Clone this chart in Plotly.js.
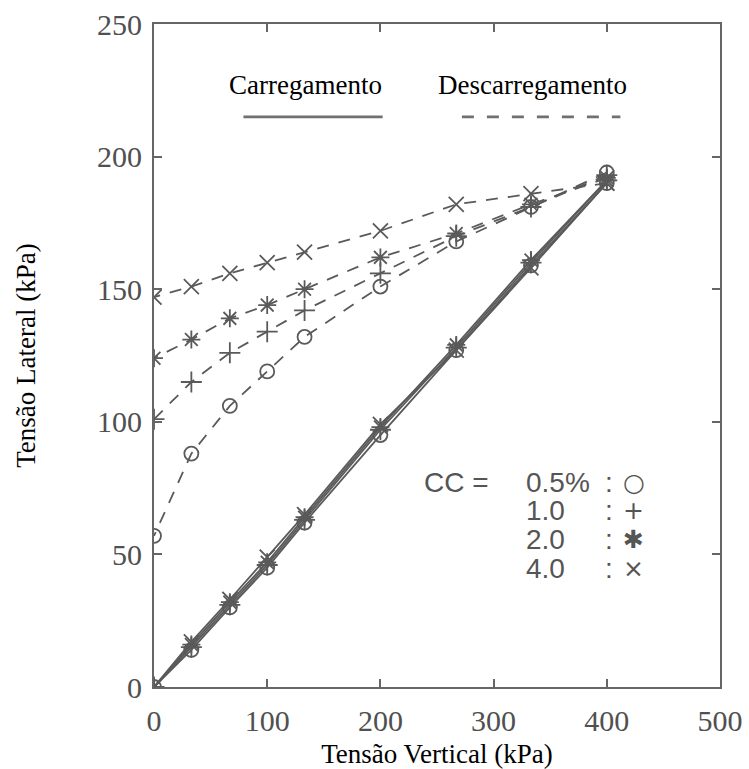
<!DOCTYPE html>
<html>
<head>
<meta charset="utf-8">
<script src="https://cdn.plot.ly/plotly-3.0.1.min.js"></script>
<style>
html,body{margin:0;padding:0;background:#fff;}
#chart{width:749px;height:769px;}
</style>
</head>
<body>
<div id="chart"></div>
<script>
// ---- data ----
const loadX   = [0, 33, 67, 100, 133, 200, 267, 333, 400];
const load05  = [0, 14, 30, 45, 62, 95, 127, 159, 190];
const load10  = [0, 15, 31, 46, 63, 97, 128, 160, 191];
const load20  = [0, 16, 32, 47, 64, 98, 129, 161, 191];
const load40  = [0, 17, 33, 49, 65, 99, 127, 158, 190];

const unloadX  = [400, 333, 267, 200, 133, 100, 67, 33, 0];
const unload05 = [194, 181, 168, 151, 132, 119, 106, 88, 57];
const unload10 = [193, 181, 170, 156, 142, 134, 126, 115, 101];
const unload20 = [192, 182, 171, 162, 150, 144, 139, 131, 124];
const unload40 = [190, 186, 182, 172, 164, 160, 156, 151, 147];

const ccLabels  = ['0.5%', '1.0', '2.0', '4.0'];
const ccSymbols = ['○', '+', '✱', '×'];
const xTicks = [0, 100, 200, 300, 400, 500];
const yTicks = [0, 50, 100, 150, 200, 250];

const grey = '#5a5a5a';
const series = [
  {load: load05, unload: unload05, sym: 'circle-open', size: 14},
  {load: load10, unload: unload10, sym: 'cross-thin-open', size: 15},
  {load: load20, unload: unload20, sym: 'asterisk-open', size: 15},
  {load: load40, unload: unload40, sym: 'x-thin-open', size: 15}
];

const traces = [];
series.forEach((s, i) => {
  traces.push({
    x: loadX, y: s.load, type: 'scatter', mode: 'lines+markers',
    name: 'Carregamento CC=' + ccLabels[i],
    line: {color: grey, width: 1.8},
    marker: {symbol: s.sym, size: s.size, color: grey, line: {color: grey, width: 1.8}},
    showlegend: false
  });
  traces.push({
    x: unloadX, y: s.unload, type: 'scatter', mode: 'lines+markers',
    name: 'Descarregamento CC=' + ccLabels[i],
    line: {color: grey, width: 1.8, dash: '12px,10px'},
    marker: {symbol: s.sym, size: s.size, color: grey, line: {color: grey, width: 1.8}},
    showlegend: false
  });
});

const tickFont = {family: 'Liberation Serif, Times New Roman, serif', size: 30, color: '#505050'};
const titleFont = {family: 'Liberation Serif, Times New Roman, serif', size: 27, color: '#000'};
const ccFont = {family: 'Liberation Sans, Arial, sans-serif', size: 28, color: '#555'};
const symFont = {family: 'DejaVu Sans, sans-serif', size: 25, color: '#555'};

const annotations = [
  {x: 134, y: 227, xref: 'x', yref: 'y', text: 'Carregamento', showarrow: false,
   font: titleFont, xanchor: 'center', yanchor: 'middle'},
  {x: 334, y: 227, xref: 'x', yref: 'y', text: 'Descarregamento', showarrow: false,
   font: titleFont, xanchor: 'center', yanchor: 'middle'},
  {x: 267, y: 77, xref: 'x', yref: 'y', text: 'CC =', showarrow: false,
   font: ccFont, xanchor: 'center', yanchor: 'middle'}
];
const rowY = [77, 66.7, 55.7, 44.7];
ccLabels.forEach((lab, i) => {
  annotations.push({x: 327, y: rowY[i], xref: 'x', yref: 'y', text: lab, showarrow: false,
    font: ccFont, xanchor: 'left', yanchor: 'middle'});
  annotations.push({x: 397, y: rowY[i], xref: 'x', yref: 'y', text: ':', showarrow: false,
    font: ccFont, xanchor: 'left', yanchor: 'middle'});
  annotations.push({x: 424, y: rowY[i], xref: 'x', yref: 'y', text: ccSymbols[i], showarrow: false,
    font: symFont, xanchor: 'center', yanchor: 'middle'});
});

const shapes = [
  {type: 'line', xref: 'x', yref: 'y', x0: 79, x1: 202, y0: 215, y1: 215,
   line: {color: '#707070', width: 2.8}},
  {type: 'line', xref: 'x', yref: 'y', x0: 272, x1: 412, y0: 215, y1: 215,
   line: {color: '#707070', width: 2.8, dash: '12px,13px'}}
];

const layout = {
  width: 749, height: 769,
  margin: {l: 154, r: 29, t: 24, b: 82},
  paper_bgcolor: '#fff', plot_bgcolor: '#fff',
  showlegend: false,
  xaxis: {
    range: [0, 500], tickvals: xTicks, ticktext: xTicks.map(String),
    showgrid: false, zeroline: false,
    showline: true, linecolor: '#666', linewidth: 2, mirror: 'ticks',
    ticks: 'inside', ticklen: 8, tickwidth: 2, tickcolor: '#666',
    tickfont: tickFont, ticklabelstandoff: 6,
    title: {text: 'Tensão Vertical (kPa)', font: titleFont, standoff: 14}
  },
  yaxis: {
    range: [0, 250], tickvals: yTicks, ticktext: yTicks.map(String),
    showgrid: false, zeroline: false,
    showline: true, linecolor: '#666', linewidth: 2, mirror: 'ticks',
    ticks: 'inside', ticklen: 8, tickwidth: 2, tickcolor: '#666',
    tickfont: tickFont, ticklabelstandoff: 4,
    title: {text: 'Tensão Lateral (kPa)', font: titleFont, standoff: 54}
  },
  annotations: annotations,
  shapes: shapes
};

Plotly.newPlot('chart', traces, layout, {displayModeBar: false, staticPlot: true});
</script>
</body>
</html>
